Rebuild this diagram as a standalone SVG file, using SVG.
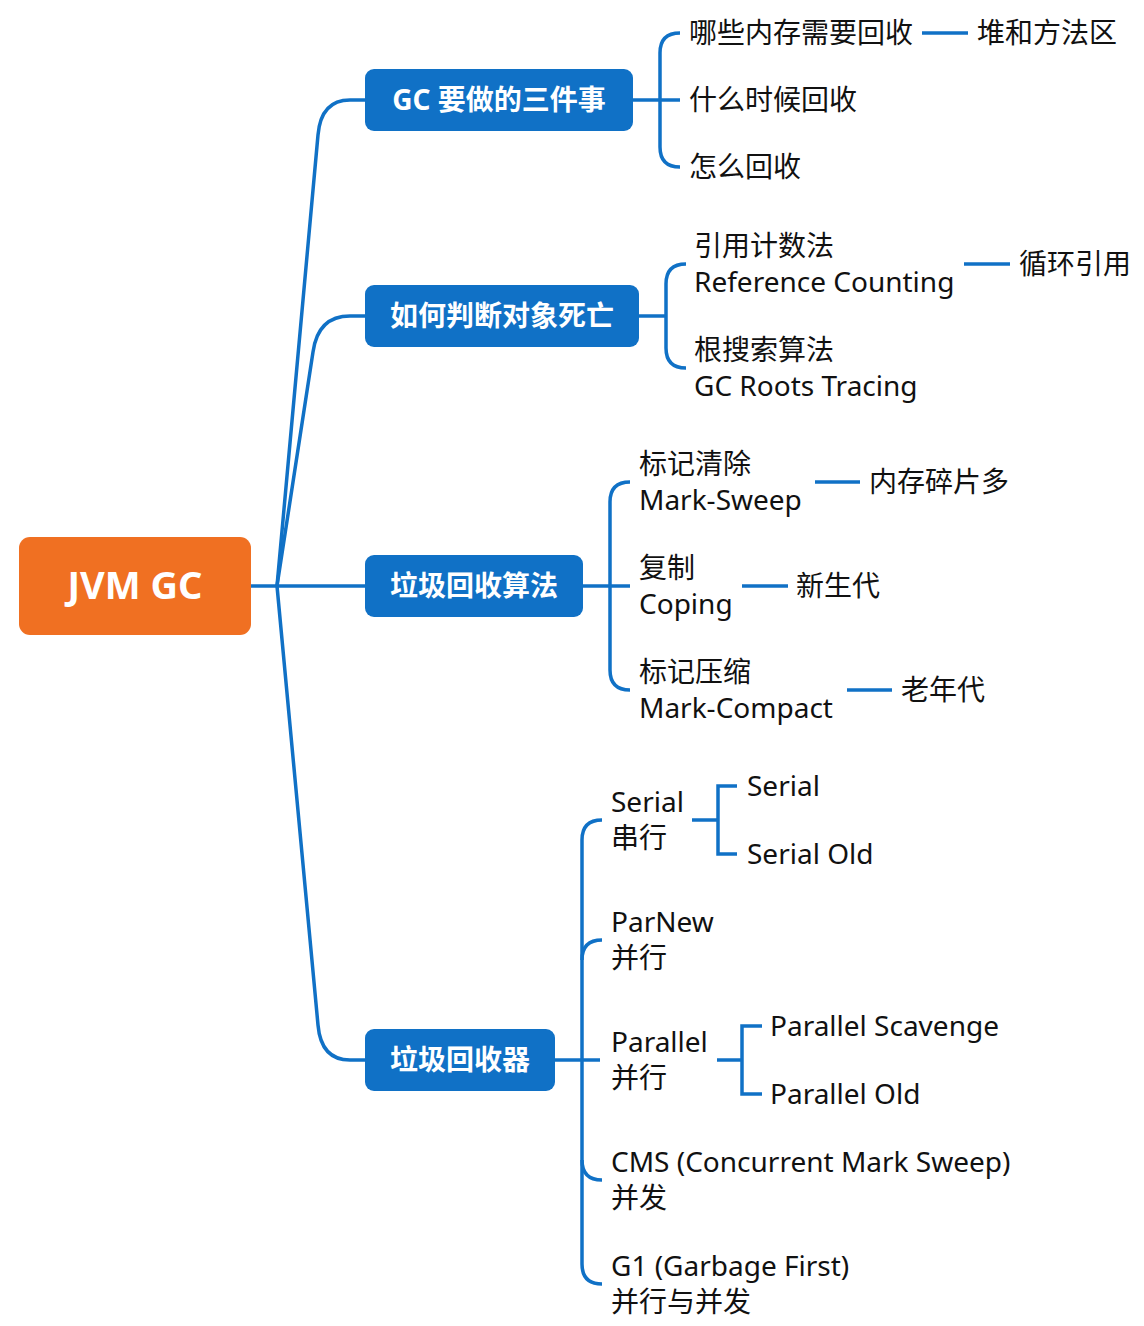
<svg xmlns="http://www.w3.org/2000/svg" width="1144" height="1326" viewBox="0 0 1144 1326">
<style>
.c{fill:none;stroke:#1071C6;stroke-width:3.5;stroke-linecap:butt}
.t{font-family:"Noto Sans","Noto Sans CJK SC",sans-serif;font-size:28px;fill:#111}
.n{fill:#1071C6}
.nt{font-family:"Noto Sans","Noto Sans CJK SC",sans-serif;font-size:28px;font-weight:bold;fill:#fff;text-anchor:middle}
</style>
<rect width="1144" height="1326" fill="#fff"/>
<g id="connectors">
<path class="c" d="M251 586 L277 586"/>
<path class="c" d="M277 586 L318 135 Q321 100 350 100 L365 100"/>
<path class="c" d="M277 586 L313 352 Q318 316 350 316 L365 316"/>
<path class="c" d="M277 586 L365 586"/>
<path class="c" d="M277 586 L318 1025 Q321 1060 350 1060 L365 1060"/>
<path class="c" d="M633 100 L680 100"/>
<path class="c" d="M680 33 Q660 33 660 53 L660 147 Q660 167 680 167"/>
<path class="c" d="M922 33 L968 33"/>
<path class="c" d="M639 316 L666 316"/>
<path class="c" d="M686 264 Q666 264 666 284 L666 348 Q666 368 686 368"/>
<path class="c" d="M964 264 L1010 264"/>
<path class="c" d="M583 586 L630 586"/>
<path class="c" d="M630 482 Q610 482 610 502 L610 670 Q610 690 630 690"/>
<path class="c" d="M815 482 L860 482"/>
<path class="c" d="M742 586 L788 586"/>
<path class="c" d="M847 690 L892 690"/>
<path class="c" d="M555 1060 L600 1060"/>
<path class="c" d="M602 820 Q582 820 582 840 L582 1264 Q582 1284 602 1284"/>
<path class="c" d="M582 960 Q582 940 602 940"/>
<path class="c" d="M582 1160 Q582 1180 602 1180"/>
<path class="c" d="M692 820 L718 820"/>
<path class="c" d="M737 786 L718 786 L718 854 L737 854"/>
<path class="c" d="M717 1060 L742 1060"/>
<path class="c" d="M762 1026 L742 1026 L742 1094 L762 1094"/>
</g>
<g id="root">
<rect x="19" y="537" width="232" height="98" rx="11" fill="#F07022"/>
<text x="135" y="599" font-family="Noto Sans, sans-serif" font-size="38" font-weight="bold" fill="#fff" text-anchor="middle">JVM GC</text>
</g>
<g id="n1">
<rect class="n" x="365" y="69" width="268" height="62" rx="9"/>
<text class="nt" x="499" y="110">GC 要做的三件事</text>
</g>
<g id="n2">
<rect class="n" x="365" y="285" width="274" height="62" rx="9"/>
<text class="nt" x="502" y="326">如何判断对象死亡</text>
</g>
<g id="n3">
<rect class="n" x="365" y="555" width="218" height="62" rx="9"/>
<text class="nt" x="474" y="596">垃圾回收算法</text>
</g>
<g id="n4">
<rect class="n" x="365" y="1029" width="190" height="62" rx="9"/>
<text class="nt" x="460" y="1070">垃圾回收器</text>
</g>
<g id="n1a"><text class="t" x="689" y="43">哪些内存需要回收</text></g>
<g id="n1a1"><text class="t" x="977" y="43">堆和方法区</text></g>
<g id="n1b"><text class="t" x="689" y="110">什么时候回收</text></g>
<g id="n1c"><text class="t" x="689" y="177">怎么回收</text></g>
<g id="n2a"><text class="t" x="694" y="256">引用计数法</text><text class="t" x="694" y="292">Reference Counting</text></g>
<g id="n2a1"><text class="t" x="1019" y="274">循环引用</text></g>
<g id="n2b"><text class="t" x="694" y="360">根搜索算法</text><text class="t" x="694" y="396">GC Roots Tracing</text></g>
<g id="n3a"><text class="t" x="639" y="474">标记清除</text><text class="t" x="639" y="510">Mark-Sweep</text></g>
<g id="n3a1"><text class="t" x="869" y="492">内存碎片多</text></g>
<g id="n3b"><text class="t" x="639" y="578">复制</text><text class="t" x="639" y="614">Coping</text></g>
<g id="n3b1"><text class="t" x="796" y="596">新生代</text></g>
<g id="n3c"><text class="t" x="639" y="682">标记压缩</text><text class="t" x="639" y="718">Mark-Compact</text></g>
<g id="n3c1"><text class="t" x="901" y="700">老年代</text></g>
<g id="n4a"><text class="t" x="611" y="812">Serial</text><text class="t" x="611" y="848">串行</text></g>
<g id="n4a1"><text class="t" x="747" y="796">Serial</text></g>
<g id="n4a2"><text class="t" x="747" y="864">Serial Old</text></g>
<g id="n4b"><text class="t" x="611" y="932">ParNew</text><text class="t" x="611" y="968">并行</text></g>
<g id="n4c"><text class="t" x="611" y="1052">Parallel</text><text class="t" x="611" y="1088">并行</text></g>
<g id="n4c1"><text class="t" x="770" y="1036">Parallel Scavenge</text></g>
<g id="n4c2"><text class="t" x="770" y="1104">Parallel Old</text></g>
<g id="n4d"><text class="t" x="611" y="1172">CMS (Concurrent Mark Sweep)</text><text class="t" x="611" y="1208">并发</text></g>
<g id="n4e"><text class="t" x="611" y="1276">G1 (Garbage First)</text><text class="t" x="611" y="1312">并行与并发</text></g>
</svg>
